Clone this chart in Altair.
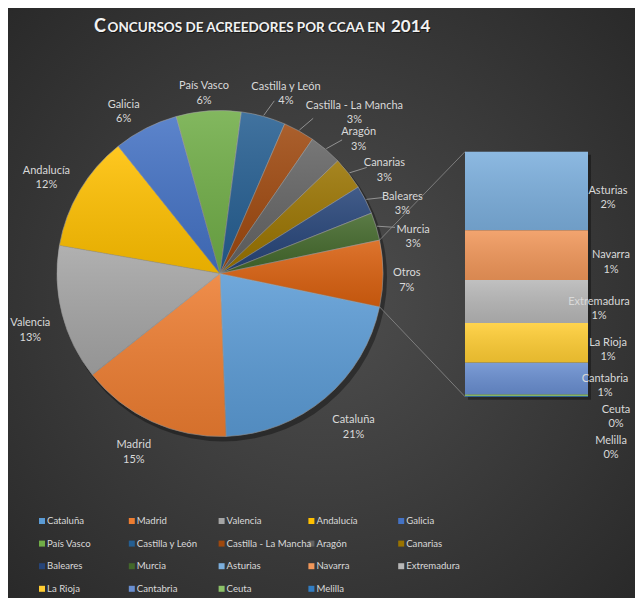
import math
import altair as alt
import pandas as pd

# ---------------- data (shares, in % of all concursos) ----
names_main = ["Cataluña", "Madrid", "Valencia", "Andalucía", "Galicia", "País Vasco",
              "Castilla y León", "Castilla - La Mancha", "Aragón", "Canarias",
              "Baleares", "Murcia"]
values_main = [21.1, 14.9, 13.4, 11.5, 6.4, 6.4, 4.4, 3.1, 3.25, 3.25, 2.85, 2.75]

names_other = ["Asturias", "Navarra", "Extremadura", "La Rioja", "Cantabria", "Ceuta", "Melilla"]
values_other = [2.1, 1.33, 1.15, 1.06, 0.85, 0.04, 0.02]

other_label = "Otros"
title_text = ["C", "ONCURSOS DE ACREEDORES POR CCAA EN", "2014"]

# ---------------- styles ----------------
colors_main = ["#5B9BD5", "#ED7D31", "#A5A5A5", "#FFC000", "#4472C4", "#70AD47",
               "#255E91", "#9E480E", "#636363", "#997300", "#264478", "#43682B"]
colors_other = ["#7CAFDD", "#F1975A", "#B7B7B7", "#FFCD33", "#698ED0", "#8CC168", "#327DC2"]
color_otros = "#D9600F"

FONT = "Lato"
TXT = "#d9d9d9"
LABEL_SIZE = 11
CHAR_W = 5.5          # approx. width of one label character at LABEL_SIZE
LEGEND_SIZE = 9.6
W, H = 627, 590
CX, CY, R = 212, 265.5, 163
START = math.radians(101.8)
BAR_X0, BAR_X1, BAR_TOP, BAR_BOTTOM = 457, 580, 143.7, 388.7

otros_total = sum(values_other)
total_all = sum(values_main) + otros_total

names_all = names_main + names_other
color_scale = alt.Scale(domain=names_all + [other_label],
                        range=colors_main + colors_other + [color_otros])

pie_df = pd.DataFrame({"name": names_main + [other_label],
                       "v": values_main + [otros_total],
                       "idx": list(range(len(names_main) + 1))})
bar_df = pd.DataFrame({"name": names_other, "v": values_other,
                       "idx": list(range(len(names_other)))})
legend_df = pd.DataFrame({"name": names_all, "idx": list(range(len(names_all)))})
one = pd.DataFrame({"k": [0]})

# ---------------- background ----------------
bg = alt.Chart(one).mark_rect(color={
    "gradient": "radial", "x1": 0.5, "y1": 0.5, "r1": 0, "x2": 0.5, "y2": 0.5, "r2": 0.75,
    "stops": [{"offset": 0, "color": "#4e4e4e"}, {"offset": 1, "color": "#262626"}]}
).encode(x=alt.value(0), x2=alt.value(W), y=alt.value(0), y2=alt.value(H))

# ---------------- pie ----------------
theta_enc = alt.Theta("v:Q", stack=True,
                      scale=alt.Scale(range=[START, START + 2 * math.pi]))
order_enc = alt.Order("idx:Q", sort="ascending")

pie_base = alt.Chart(pie_df)

pie_shadow = alt.Chart(one).mark_arc(radius=R + 1, theta=0, theta2=2 * math.pi,
                                     color="#000000", opacity=0.35).encode(
    x=alt.value(CX + 3), y=alt.value(CY + 4))

pie = pie_base.mark_arc(radius=R, stroke="#9a9a9a", strokeWidth=0.6).encode(
    theta=theta_enc, order=order_enc,
    color=alt.Color("name:N", scale=color_scale, legend=None),
    x=alt.value(CX), y=alt.value(CY))

shade = {"gradient": "linear", "x1": 0, "y1": 0, "x2": 0, "y2": 1,
         "stops": [{"offset": 0, "color": "rgba(255,255,255,0.13)"},
                   {"offset": 1, "color": "rgba(0,0,0,0.10)"}]}

pie_overlay = pie_base.mark_arc(radius=R, color=shade).encode(
    theta=theta_enc, order=order_enc, x=alt.value(CX), y=alt.value(CY))

# label placement: big slices -> label box set beside the point just outside the
# rim; small slices -> pushed clockwise with a leader line, wide labels further out
pie_calc = pie_base.transform_window(
    cum="sum(v)", sort=[alt.SortField("idx")], frame=[None, 0]
).transform_calculate(
    frac=f"datum.v / {total_all}",
    small=f"datum.v / {total_all} < 0.05",
    extra="max(0, length(datum.name) - 15)",
    tw=f"length(datum.name) * {CHAR_W}",
    a0=f"{START} + 2 * PI * (datum.cum - datum.v) / {total_all}",
    a1=f"{START} + 2 * PI * datum.cum / {total_all}",
).transform_calculate(
    mid="(datum.a0 + datum.a1) / 2",
).transform_calculate(
    sang="datum.mid + 0.07 + 0.02 * datum.extra",
    sr="198 + 3.4 * datum.extra",
    px=f"{CX} + {R + 10} * sin(datum.mid)",
    py=f"{CY} - {R + 10} * cos(datum.mid)",
).transform_calculate(
    lx=f"datum.small ? {CX} + datum.sr * sin(datum.sang) : "
       f"datum.px + datum.tw / 2 * clamp(2 * sin(datum.mid), -1, 1)",
    ly=f"datum.small ? {CY} - datum.sr * cos(datum.sang) : "
       f"datum.py + 14.5 * clamp(-2 * cos(datum.mid), -1, 1)",
    lx0=f"{CX} + {R + 1} * sin(datum.mid)",
    ly0=f"{CY} - {R + 1} * cos(datum.mid)",
    lx1=f"{CX} + 181 * sin(datum.mid + 0.035)",
    ly1=f"{CY} - 181 * cos(datum.mid + 0.035)",
    label="datum.name + '\\n' + format(datum.frac, '.0%')",
    ox0=f"{CX} + {R} * sin(datum.a0)",
    oy0=f"{CY} - {R} * cos(datum.a0)",
    ox1=f"{CX} + {R} * sin(datum.a1)",
    oy1=f"{CY} - {R} * cos(datum.a1)",
)

leaders = pie_calc.transform_filter("datum.small").mark_rule(
    color="#a6a6a6", strokeWidth=0.8).encode(
    x=alt.X("lx0:Q", scale=None), y=alt.Y("ly0:Q", scale=None),
    x2="lx1:Q", y2="ly1:Q")

pie_labels = pie_calc.mark_text(font=FONT, fontSize=LABEL_SIZE, color=TXT, lineBreak="\n",
                                align="center", baseline="middle", lineHeight=14.5).encode(
    x=alt.X("lx:Q", scale=None), y=alt.Y("ly:Q", scale=None), text="label:N")

otros_only = pie_calc.transform_filter(f"datum.name == '{other_label}'")
conn_top = otros_only.mark_rule(color="#8c8c8c", strokeWidth=0.8).encode(
    x=alt.X("ox0:Q", scale=None), y=alt.Y("oy0:Q", scale=None),
    x2=alt.value(BAR_X0), y2=alt.value(BAR_TOP))
conn_bot = otros_only.mark_rule(color="#8c8c8c", strokeWidth=0.8).encode(
    x=alt.X("ox1:Q", scale=None), y=alt.Y("oy1:Q", scale=None),
    x2=alt.value(BAR_X0), y2=alt.value(BAR_BOTTOM))

# ---------------- bar of "Otros" ----------------
spacing = 31 * otros_total / (BAR_BOTTOM - BAR_TOP)
y_scale = alt.Scale(domain=[0, otros_total], range=[BAR_BOTTOM, BAR_TOP], nice=False, zero=False)

bar_base = alt.Chart(bar_df).transform_window(
    cum="sum(v)", rank="row_number()", sort=[alt.SortField("idx")], frame=[None, 0]
).transform_calculate(
    ytop=f"{otros_total} - (datum.cum - datum.v)",
    ybot=f"{otros_total} - datum.cum",
    dmid="datum.cum - datum.v / 2",
).transform_calculate(
    k=f"datum.dmid - {spacing} * datum.rank",
)

bar_shadow = alt.Chart(one).mark_rect(color="#000000", opacity=0.35).encode(
    x=alt.value(BAR_X0 + 3), x2=alt.value(BAR_X1 + 3),
    y=alt.value(BAR_TOP + 3), y2=alt.value(BAR_BOTTOM + 3))

bar = bar_base.mark_rect().encode(
    x=alt.value(BAR_X0), x2=alt.value(BAR_X1),
    y=alt.Y("ytop:Q", scale=y_scale, axis=None), y2="ybot:Q",
    color=alt.Color("name:N", scale=color_scale, legend=None))

bar_overlay = bar_base.mark_rect(color=shade).encode(
    x=alt.value(BAR_X0), x2=alt.value(BAR_X1),
    y=alt.Y("ytop:Q", scale=y_scale, axis=None), y2="ybot:Q")

bar_labels = bar_base.transform_window(
    runmax="max(k)", sort=[alt.SortField("idx")], frame=[None, 0]
).transform_calculate(
    ylab=f"{otros_total} - ({spacing} * datum.rank + datum.runmax)",
    xlab="min(608, 624 - 3.0 * length(datum.name))",
    label=f"datum.name + '\\n' + format(datum.v / {total_all}, '.0%')",
).mark_text(font=FONT, fontSize=LABEL_SIZE, color=TXT, lineBreak="\n", align="center",
            baseline="middle", lineHeight=14.5).encode(
    x=alt.X("xlab:Q", scale=None),
    y=alt.Y("ylab:Q", scale=y_scale, axis=None),
    text="label:N")

# ---------------- legend ----------------
leg = alt.Chart(legend_df).transform_calculate(
    gx="34 + 89.8 * (datum.idx % 5)",
    gy="513 + 22.6 * floor(datum.idx / 5)",
).transform_calculate(tx="datum.gx + 5")

leg_sq = leg.mark_square(size=36, opacity=1).encode(
    x=alt.X("gx:Q", scale=None), y=alt.Y("gy:Q", scale=None),
    color=alt.Color("name:N", scale=color_scale, legend=None))
leg_txt = leg.mark_text(font=FONT, fontSize=LEGEND_SIZE, color=TXT, align="left",
                        baseline="middle").encode(
    x=alt.X("tx:Q", scale=None), y=alt.Y("gy:Q", scale=None), text="name:N")

# ---------------- title (small caps imitation) ----------------
def title_part(txt, x, size, color, dx=0.0, dy=0.0, op=1.0):
    return alt.Chart(one).mark_text(text=txt, font=FONT, fontWeight="bold", fontSize=size,
                                    align="left", baseline="alphabetic", color=color,
                                    opacity=op).encode(
        x=alt.value(x + dx), y=alt.value(23.7 + dy))

title_layers = []
for dx, dy, col, op in [(1, 1.5, "#000000", 0.55), (0, 0, "#f2f2f2", 1.0)]:
    title_layers.append(title_part(title_text[0], 86, 18, col, dx, dy, op))
    title_layers.append(title_part(title_text[1], 99.5, 13.5, col, dx, dy, op))
    title_layers.append(title_part(title_text[2], 383, 17, col, dx, dy, op))

chart = alt.layer(
    bg, pie_shadow, pie, pie_overlay, leaders, conn_top, conn_bot, pie_labels,
    bar_shadow, bar, bar_overlay, bar_labels, leg_sq, leg_txt, *title_layers
).properties(
    width=W, height=H, padding=0, autosize="none", background="#2e2e2e"
).configure_view(stroke=None)

chart.save("out.html", embed_options={"renderer": "svg", "actions": False})
